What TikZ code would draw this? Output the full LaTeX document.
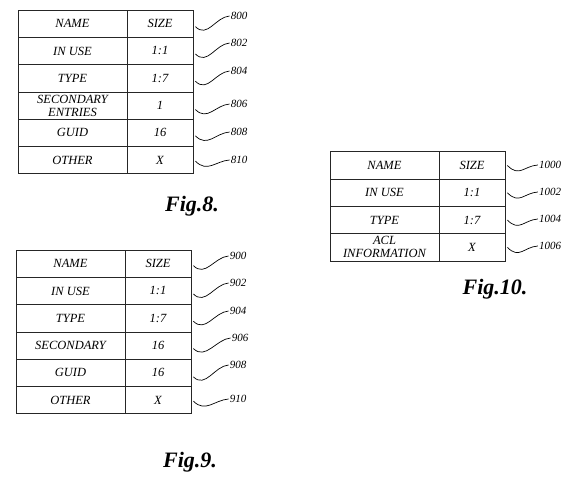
\documentclass[tikz,border=0pt]{standalone}
\usepackage{fontspec}
\setmainfont{Liberation Serif}
\usepackage{tikz}
\tikzstyle{cell}     = [rectangle, draw=black!85, line width=0.8pt, minimum height=27.3pt, inner sep=0.5pt, align=center, font=\fontsize{12.5}{13}\selectfont\itshape]
\tikzstyle{namecell} = [cell, minimum width=109pt]
\tikzstyle{sizecell} = [cell, minimum width=66pt]
\tikzstyle{refnum}   = [inner sep=1pt, font=\fontsize{11}{12}\selectfont\itshape]
\tikzstyle{lead}     = [line width=0.7pt, to path={.. controls +(12,12) and +(-14,1) .. (\tikztotarget)}]
\tikzstyle{figname}  = [anchor=base, inner sep=0pt, font=\fontsize{22}{26}\selectfont\bfseries\itshape]

\begin{document}
\begin{tikzpicture}[x=1pt, y=-1pt, node distance=27.3pt]
      \useasboundingbox (0,0) rectangle (566,477);

      % Fig. 8
      \node (8n0) [namecell] at (72.5,23.65) {NAME};
      \node (8n1) [namecell, below of=8n0] {IN USE};
      \node (8n2) [namecell, below of=8n1] {TYPE};
      \node (8n3) [namecell, below of=8n2] {SECONDARY\\ENTRIES};
      \node (8n4) [namecell, below of=8n3] {GUID};
      \node (8n5) [namecell, below of=8n4] {OTHER};

      \node (8s0) [sizecell, node distance=87.5pt, right of=8n0] {SIZE};
      \node (8s1) [sizecell, node distance=87.5pt, right of=8n1] {1:1};
      \node (8s2) [sizecell, node distance=87.5pt, right of=8n2] {1:7};
      \node (8s3) [sizecell, node distance=87.5pt, right of=8n3] {1};
      \node (8s4) [sizecell, node distance=87.5pt, right of=8n4] {16};
      \node (8s5) [sizecell, node distance=87.5pt, right of=8n5] {X};

      \node (l800) [refnum] at (239,16)  {800};
      \node (l802) [refnum] at (239,43)  {802};
      \node (l804) [refnum] at (239,71)  {804};
      \node (l806) [refnum] at (239,104) {806};
      \node (l808) [refnum] at (239,132) {808};
      \node (l810) [refnum] at (239,160) {810};

      \draw [lead] ([xshift=2pt, yshift=-3pt]8s0.east) to (l800.west);
      \draw [lead] ([xshift=2pt, yshift=-3pt]8s1.east) to (l802.west);
      \draw [lead] ([xshift=2pt, yshift=-3pt]8s2.east) to (l804.west);
      \draw [lead] ([xshift=2pt, yshift=-4pt]8s3.east) to (l806.west);
      \draw [lead] ([xshift=2pt, yshift=-3pt]8s4.east) to (l808.west);
      \draw [lead] ([xshift=2pt, yshift=-1pt]8s5.east) to (l810.west);

      \node (fig8) [figname] at (192,211) {Fig.8.};

      % Fig. 9
      \node (9n0) [namecell] at (70.5,263.65) {NAME};
      \node (9n1) [namecell, below of=9n0] {IN USE};
      \node (9n2) [namecell, below of=9n1] {TYPE};
      \node (9n3) [namecell, below of=9n2] {SECONDARY};
      \node (9n4) [namecell, below of=9n3] {GUID};
      \node (9n5) [namecell, below of=9n4] {OTHER};

      \node (9s0) [sizecell, node distance=87.5pt, right of=9n0] {SIZE};
      \node (9s1) [sizecell, node distance=87.5pt, right of=9n1] {1:1};
      \node (9s2) [sizecell, node distance=87.5pt, right of=9n2] {1:7};
      \node (9s3) [sizecell, node distance=87.5pt, right of=9n3] {16};
      \node (9s4) [sizecell, node distance=87.5pt, right of=9n4] {16};
      \node (9s5) [sizecell, node distance=87.5pt, right of=9n5] {X};

      \node (l900) [refnum] at (238,256) {900};
      \node (l902) [refnum] at (238,283) {902};
      \node (l904) [refnum] at (238,311) {904};
      \node (l906) [refnum] at (240,338) {906};
      \node (l908) [refnum] at (238,365) {908};
      \node (l910) [refnum] at (238,399) {910};

      \draw [lead] ([xshift=2pt, yshift=-2pt]9s0.east) to (l900.west);
      \draw [lead] ([xshift=2pt, yshift=-3pt]9s1.east) to (l902.west);
      \draw [lead] ([xshift=2pt, yshift=-3pt]9s2.east) to (l904.west);
      \draw [lead] ([xshift=2pt, yshift=-3pt]9s3.east) to (l906.west);
      \draw [lead] ([xshift=2pt, yshift=-4pt]9s4.east) to (l908.west);
      \draw [lead] ([xshift=2pt, yshift=-1pt]9s5.east) to (l910.west);

      \node (fig9) [figname] at (190,467) {Fig.9.};

      % Fig. 10
      \node (10n0) [namecell] at (384.5,165.5) {NAME};
      \node (10n1) [namecell, below of=10n0] {IN USE};
      \node (10n2) [namecell, below of=10n1] {TYPE};
      \node (10n3) [namecell, below of=10n2] {ACL\\INFORMATION};

      \node (10s0) [sizecell, node distance=87.5pt, right of=10n0] {SIZE};
      \node (10s1) [sizecell, node distance=87.5pt, right of=10n1] {1:1};
      \node (10s2) [sizecell, node distance=87.5pt, right of=10n2] {1:7};
      \node (10s3) [sizecell, node distance=87.5pt, right of=10n3] {X};

      \node (l1000) [refnum] at (550,165) {1000};
      \node (l1002) [refnum] at (550,192) {1002};
      \node (l1004) [refnum] at (550,219) {1004};
      \node (l1006) [refnum] at (550,246) {1006};

      \draw [lead] ([xshift=2pt]10s0.east) to (l1000.west);
      \draw [lead] ([xshift=2pt]10s1.east) to (l1002.west);
      \draw [lead] ([xshift=2pt]10s2.east) to (l1004.west);
      \draw [lead] ([xshift=2pt]10s3.east) to (l1006.west);

      \node (fig10) [figname] at (495,294) {Fig.10.};

    \end{tikzpicture}
\end{document}
